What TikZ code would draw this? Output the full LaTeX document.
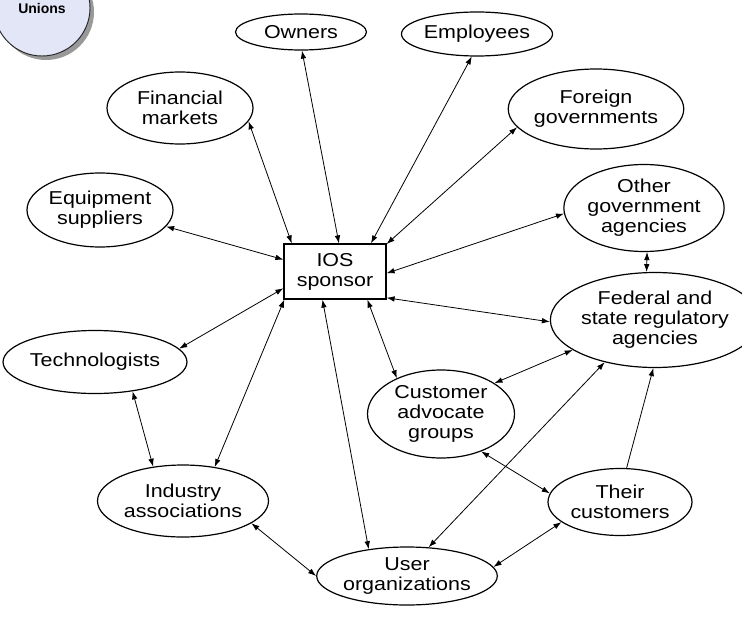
\documentclass[tikz,border=0pt]{standalone}
\usepackage{fontspec}
\setmainfont{Liberation Sans}[FakeStretch=1.15]
\newfontfamily\unionsfont{Liberation Sans}
\usetikzlibrary{shapes.geometric,arrows.meta,shadows}
\definecolor{unionfill}{HTML}{E2E6F6}
\begin{document}
\begin{tikzpicture}[x=0.75pt,y=-0.75pt,
  ent/.style={ellipse, draw, line width=0.9pt, inner sep=0pt, align=center,
    font=\fontsize{14}{15}\selectfont},
  tip/.tip={Latex[length=6pt,width=4.2pt]},
  lnk/.style={line width=0.6pt, tip-tip},
  lnkone/.style={line width=0.6pt, -tip}]
\useasboundingbox (0,0) rectangle (742,617);

% Unions (partly outside the picture)
\node[circle, draw=black!85, line width=0.7pt, fill=unionfill, minimum size=72pt,
  inner sep=0pt, font=\unionsfont\bfseries\fontsize{10.5}{12}\selectfont,
  drop shadow={shadow xshift=3pt,shadow yshift=-3pt,fill=black!40,opacity=1}]
  (uni) at (42,8) {Unions};

% central box
\node[draw, line width=0.9pt, minimum width=76.5pt, minimum height=41.25pt,
  inner sep=0pt, align=center, font=\fontsize{14}{15}\selectfont]
  (ios) at (335,271.5) {IOS\\sponsor};

% stakeholders
\node[ent, minimum width=98.25pt, minimum height=27pt]    (own) at (301,32)  {Owners};
\node[ent, minimum width=113.25pt, minimum height=33pt]   (emp) at (477,34)  {Employees};
\node[ent, minimum width=109.5pt, minimum height=54pt]    (fin) at (180,108) {Financial\\markets};
\node[ent, minimum width=114pt, minimum height=60pt]      (for) at (596,109) {Foreign\\governments};
\node[ent, minimum width=107.25pt, minimum height=65.25pt](oga) at (644,208) {Other\\government\\agencies};
\node[ent, minimum width=109.5pt, minimum height=55.5pt]  (eqp) at (100,210) {Equipment\\suppliers};
\node[ent, minimum width=115.5pt, minimum height=47.25pt] (tec) at (95,362)  {Technologists};
\node[ent, minimum width=130.5pt, minimum height=71.25pt] (fed) at (655,320) {Federal and\\state regulatory\\agencies};
\node[ent, minimum width=110.25pt, minimum height=66pt]   (cag) at (441,414) {Customer\\advocate\\groups};
\node[ent, minimum width=128.25pt, minimum height=54pt]   (ind) at (183,501) {Industry\\associations};
\node[ent, minimum width=108pt, minimum height=50.25pt]   (thc) at (620,502) {Their\\customers};
\node[ent, minimum width=120.75pt, minimum height=43.5pt]  (usr) at (407,576) {User\\organizations};

% connectors
\draw[lnk] (ios.147) -- (fin.-11);
\draw[lnk] (ios.82)  -- (own.-87);
\draw[lnk] (ios.38)  -- (emp.-103);
\draw[lnk] (ios.28)  -- (for.193);
\draw[lnk] (ios.-2)  -- (oga.184);
\draw[lnk] (ios.-27) -- (fed.181);
\draw[lnk] (ios.167) -- (eqp.-14);
\draw[lnk] (ios.198) -- (tec.9);
\draw[lnk] (ios.209) -- (ind.47);
\draw[lnk] (ios.246) -- (usr.145);
\draw[lnk] (ios.-41) -- (cag.141);
\draw[lnk] (oga.-86) -- (fed.100);
\draw[lnk] (fed.200) -- (cag.30);
\draw[lnk] (fed.220) -- (usr.53);
\draw[lnkone] (thc.79) -- (fed.-92);
\draw[lnk] (cag.-43) -- (thc.173);
\draw[lnk] (usr.6)   -- (thc.199);
\draw[lnk] (ind.-18) -- (usr.180);
\draw[lnk] (tec.-38) -- (ind.131);
\end{tikzpicture}
\end{document}
